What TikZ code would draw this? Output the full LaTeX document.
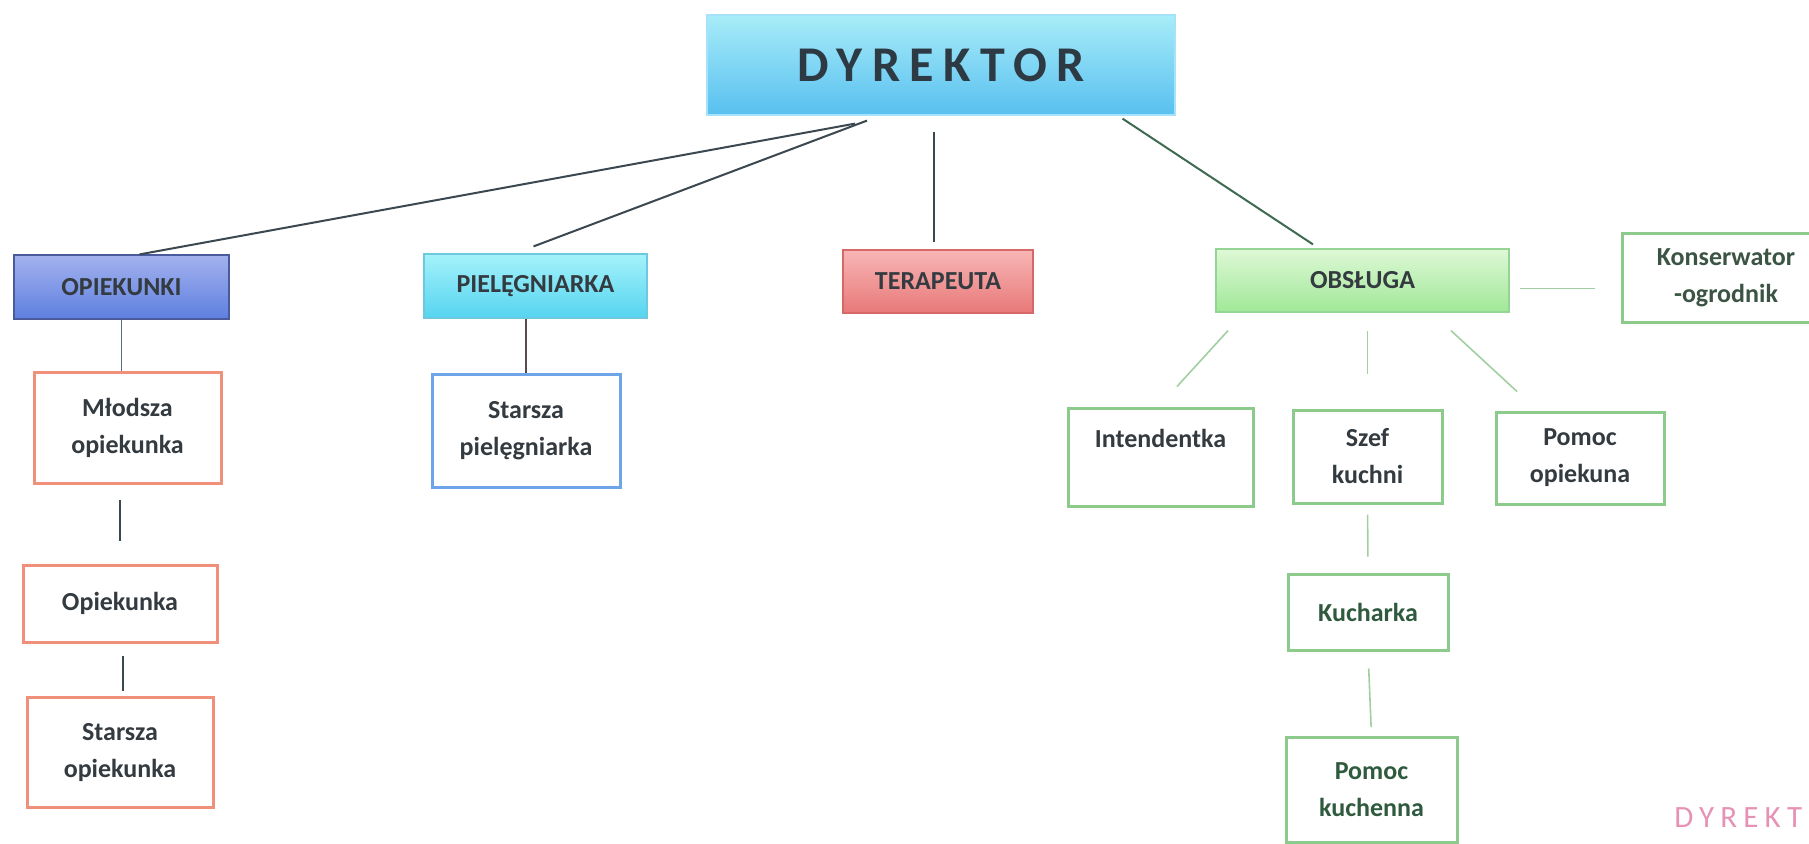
\documentclass[tikz,border=0pt]{standalone}
\usepackage{fontspec}
\setmainfont{Carlito}
\usepackage{xcolor}
\definecolor{txtgray}{HTML}{343B40}
\definecolor{txtgreen}{HTML}{2F5A3E}
\definecolor{linkdark}{HTML}{3B4850}
\definecolor{linkgreen}{HTML}{3E6A52}
\definecolor{linklight}{HTML}{A2CFA2}
\definecolor{salmon}{HTML}{F0907A}
\definecolor{leafgreen}{HTML}{8CCB8C}
\definecolor{leafblue}{HTML}{6EA4E8}
\definecolor{stamppink}{HTML}{E27FA8}

\begin{document}
\begin{tikzpicture}[
    x=0.5pt, y=-0.5pt,
    wh/.style 2 args={minimum width=#1*0.5pt, minimum height=#2*0.5pt},
    box/.style={rectangle, inner sep=0pt, align=center, text=txtgray,
        font=\fontsize{13}{18.5}\selectfont\bfseries},
    head/.style={box, draw, line width=0.6pt},
    leaf/.style={box, draw, fill=white, line width=1.5pt},
    link/.style={draw=linkdark, line width=1pt},
    thinlink/.style={draw=linkdark, line width=0.6pt},
    greenlink/.style={draw=linklight, line width=0.8pt}
    ]
\useasboundingbox (0,0) rectangle (1809,843);

% top
\node[head, wh={468}{100}, draw=cyan!35, top color={rgb,255:red,168;green,236;blue,248},
      bottom color={rgb,255:red,88;green,192;blue,240}, text={rgb,255:red,45;green,58;blue,68},
      font=\fontsize{25}{30}\selectfont\bfseries\addfontfeatures{LetterSpace=19}]
      (dyr) at (941,65) {DYREKTOR};

% second level
\node[head, wh={215}{64}, draw={rgb,255:red,74;green,90;blue,154},
      top color={rgb,255:red,164;green,178;blue,238}, bottom color={rgb,255:red,93;green,127;blue,224}]
      (opk) at (121.5,287) {OPIEKUNKI};
\node[head, wh={223}{64}, draw={rgb,255:red,110;green,200;blue,224},
      top color={rgb,255:red,164;green,242;blue,250}, bottom color={rgb,255:red,86;green,212;blue,240}]
      (piel) at (535.5,286) {PIELĘGNIARKA};
\node[head, wh={190}{63}, draw={rgb,255:red,214;green,104;blue,104},
      top color={rgb,255:red,248;green,182;blue,182}, bottom color={rgb,255:red,232;green,120;blue,120}]
      (tera) at (938,281.5) {TERAPEUTA};
\node[head, wh={293}{63}, draw={rgb,255:red,150;green,212;blue,150},
      top color={rgb,255:red,222;green,248;blue,214}, bottom color={rgb,255:red,160;green,232;blue,152}]
      (obs) at (1362.5,280.5) {OBSŁUGA};
\node[leaf, wh={208}{89}, draw=leafgreen, text={rgb,255:red,59;green,84;blue,68}]
      (kon) at (1726,277.5) {Konserwator\\-ogrodnik};

% opiekunki
\node[leaf, wh={187}{111}, draw=salmon] (mlo) at (127.5,427.5) {Młodsza\\opiekunka};
\node[leaf, wh={194}{77}, draw=salmon] (opi) at (120,603.5) {Opiekunka};
\node[leaf, wh={186}{110}, draw=salmon] (sto) at (120,752) {Starsza\\opiekunka};

% pielegniarka
\node[leaf, wh={188}{113}, draw=leafblue] (spi) at (526,430.5) {Starsza\\pielęgniarka};

% obsluga
\node[leaf, wh={185}{98}, draw=leafgreen] (int) at (1160.5,457) {Intendentka\\\mbox{}};
\node[leaf, wh={149}{93}, draw=leafgreen] (sze) at (1367.5,456.5) {Szef\\kuchni};
\node[leaf, wh={168}{92}, draw=leafgreen] (pop) at (1580,458) {Pomoc\\opiekuna};
\node[leaf, wh={160}{76}, draw=leafgreen, text=txtgreen] (kuc) at (1368,612) {Kucharka};
\node[leaf, wh={171}{105}, draw=leafgreen, text=txtgreen] (pkk) at (1371.5,790) {Pomoc\\kuchenna};

% stamp
\node[anchor=west, inner sep=0pt, text=stamppink, opacity=0.85,
      font=\fontsize{15.5}{15.5}\selectfont\addfontfeatures{LetterSpace=20}]
      (stamp) at (1674,818) {DYREKT};

% connectors from the top
\path ([xshift=-43pt,yshift=-4pt]dyr.south) edge[link] ([xshift=9pt]opk.north);
\path ([xshift=-37pt,yshift=-2.5pt]dyr.south) edge[link] ([xshift=-1pt,yshift=3.5pt]piel.north);
\path ([xshift=-2pt,yshift=-8pt]dyr.south -| tera.north) edge[link] ([xshift=-2pt,yshift=3.5pt]tera.north);
\path ([xshift=90.75pt,yshift=-1.5pt]dyr.south) edge[link, draw=linkgreen] ([xshift=-24.75pt,yshift=2pt]obs.north);

% opiekunki chain
\path (opk.south) edge[thinlink, draw={rgb,255:red,90;green,106;blue,144}] (opk.south |- mlo.north);
\path (mlo.south -| opi.north) edge[link, shorten <=7.5pt, shorten >=11.5pt] (opi.north);
\path ([xshift=1.5pt]opi.south) edge[link, shorten <=6pt, shorten >=2.5pt] ([xshift=1.5pt]sto.north);
\path (spi.north |- piel.south) edge[link, draw={rgb,255:red,90;green,74;blue,80}] (spi.north);

% obsluga chain
\path ([xshift=-67.25pt,yshift=-9pt]obs.south) edge[greenlink] ([xshift=8.25pt,yshift=10pt]int.north);
\path (sze.north |- obs.south) edge[greenlink, shorten <=9pt, shorten >=17.5pt] (sze.north);
\path ([xshift=44.25pt,yshift=-9pt]obs.south) edge[greenlink] ([xshift=-31.5pt,yshift=9.5pt]pop.north);
\path ([yshift=-4pt]obs.east) edge[greenlink, shorten <=5pt, shorten >=13pt] ([yshift=-4pt]obs.east -| kon.west);
\path (sze.south) edge[greenlink, shorten <=5pt, shorten >=8pt] (kuc.north);
\path (kuc.south) edge[greenlink, shorten <=8.5pt, shorten >=4.5pt] (pkk.north);
\end{tikzpicture}
\end{document}
